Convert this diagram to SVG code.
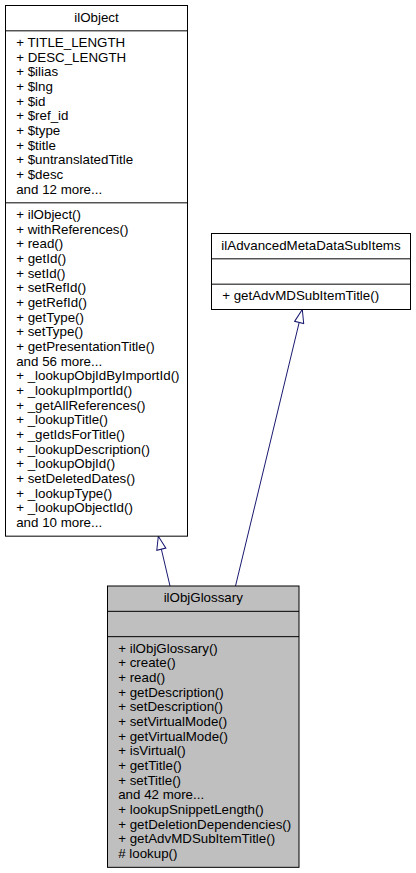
<svg xmlns="http://www.w3.org/2000/svg" width="416" height="873" viewBox="0 0 416 873">
<style>
  .box { stroke: #000; stroke-width: 1; fill: #fff; }
  .cur { fill: #bfbfbf; }
  .sep { stroke: #000; stroke-width: 1; }
  text { font-family: "Liberation Sans", Arial, Helvetica, sans-serif; font-size: 13.33px; fill: #000; }
  .t { text-anchor: middle; }
  .edge { stroke: #191970; stroke-width: 1; fill: none; marker-end: url(#hollow); }
</style>
<defs>
  <marker id="hollow" markerUnits="userSpaceOnUse" viewBox="-1 -1 15.33 11.33" refX="13.33" refY="4.67" markerWidth="15.33" markerHeight="11.33" orient="auto">
    <path d="M0,0 L13.33,4.67 L0,9.33 Z" fill="#fff" stroke="#191970" stroke-width="1"/>
  </marker>
</defs>
<rect width="416" height="873" fill="#fff"/>
<g id="connectors">
  <path class="edge" d="M170,586 L158.3,536.2"/>
  <path class="edge" d="M235.5,586 L302.3,309.5"/>
</g>
<g id="ilObject">
  <rect class="box" x="5.5" y="5.5" width="182" height="530.67"/>
  <line class="sep" x1="5.5" y1="30.83" x2="187.5" y2="30.83"/>
  <line class="sep" x1="5.5" y1="202.83" x2="187.5" y2="202.83"/>
  <text class="t" x="96.5" y="21.5">ilObject</text>
  <text x="16.2" y="46.83">+ TITLE_LENGTH</text>
  <text x="16.2" y="61.5">+ DESC_LENGTH</text>
  <text x="16.2" y="76.17">+ $ilias</text>
  <text x="16.2" y="90.83">+ $lng</text>
  <text x="16.2" y="105.5">+ $id</text>
  <text x="16.2" y="120.17">+ $ref_id</text>
  <text x="16.2" y="134.83">+ $type</text>
  <text x="16.2" y="149.5">+ $title</text>
  <text x="16.2" y="164.17">+ $untranslatedTitle</text>
  <text x="16.2" y="178.83">+ $desc</text>
  <text x="16.2" y="193.5">and 12 more...</text>
  <text x="16.2" y="218.83">+ ilObject()</text>
  <text x="16.2" y="233.5">+ withReferences()</text>
  <text x="16.2" y="248.17">+ read()</text>
  <text x="16.2" y="262.83">+ getId()</text>
  <text x="16.2" y="277.5">+ setId()</text>
  <text x="16.2" y="292.17">+ setRefId()</text>
  <text x="16.2" y="306.83">+ getRefId()</text>
  <text x="16.2" y="321.5">+ getType()</text>
  <text x="16.2" y="336.17">+ setType()</text>
  <text x="16.2" y="350.83">+ getPresentationTitle()</text>
  <text x="16.2" y="365.5">and 56 more...</text>
  <text x="16.2" y="380.17">+ _lookupObjIdByImportId()</text>
  <text x="16.2" y="394.83">+ _lookupImportId()</text>
  <text x="16.2" y="409.5">+ _getAllReferences()</text>
  <text x="16.2" y="424.17">+ _lookupTitle()</text>
  <text x="16.2" y="438.83">+ _getIdsForTitle()</text>
  <text x="16.2" y="453.5">+ _lookupDescription()</text>
  <text x="16.2" y="468.17">+ _lookupObjId()</text>
  <text x="16.2" y="482.83">+ setDeletedDates()</text>
  <text x="16.2" y="497.5">+ _lookupType()</text>
  <text x="16.2" y="512.17">+ _lookupObjectId()</text>
  <text x="16.2" y="526.83">and 10 more...</text>
</g>
<g id="ilAdvancedMetaDataSubItems">
  <rect class="box" x="211.5" y="233.5" width="199" height="76"/>
  <line class="sep" x1="211.5" y1="258.83" x2="410.5" y2="258.83"/>
  <line class="sep" x1="211.5" y1="284.17" x2="410.5" y2="284.17"/>
  <text class="t" x="311" y="249.5">ilAdvancedMetaDataSubItems</text>
  <text x="222.2" y="300.17">+ getAdvMDSubItemTitle()</text>
</g>
<g id="ilObjGlossary">
  <rect class="box cur" x="107.5" y="586" width="191.5" height="281.33"/>
  <line class="sep" x1="107.5" y1="611.33" x2="299" y2="611.33"/>
  <line class="sep" x1="107.5" y1="636.67" x2="299" y2="636.67"/>
  <text class="t" x="203.25" y="602">ilObjGlossary</text>
  <text x="118.2" y="652.67">+ ilObjGlossary()</text>
  <text x="118.2" y="667.33">+ create()</text>
  <text x="118.2" y="682">+ read()</text>
  <text x="118.2" y="696.67">+ getDescription()</text>
  <text x="118.2" y="711.33">+ setDescription()</text>
  <text x="118.2" y="726">+ setVirtualMode()</text>
  <text x="118.2" y="740.67">+ getVirtualMode()</text>
  <text x="118.2" y="755.33">+ isVirtual()</text>
  <text x="118.2" y="770">+ getTitle()</text>
  <text x="118.2" y="784.67">+ setTitle()</text>
  <text x="118.2" y="799.33">and 42 more...</text>
  <text x="118.2" y="814">+ lookupSnippetLength()</text>
  <text x="118.2" y="828.67">+ getDeletionDependencies()</text>
  <text x="118.2" y="843.33">+ getAdvMDSubItemTitle()</text>
  <text x="118.2" y="858"># lookup()</text>
</g>
</svg>
